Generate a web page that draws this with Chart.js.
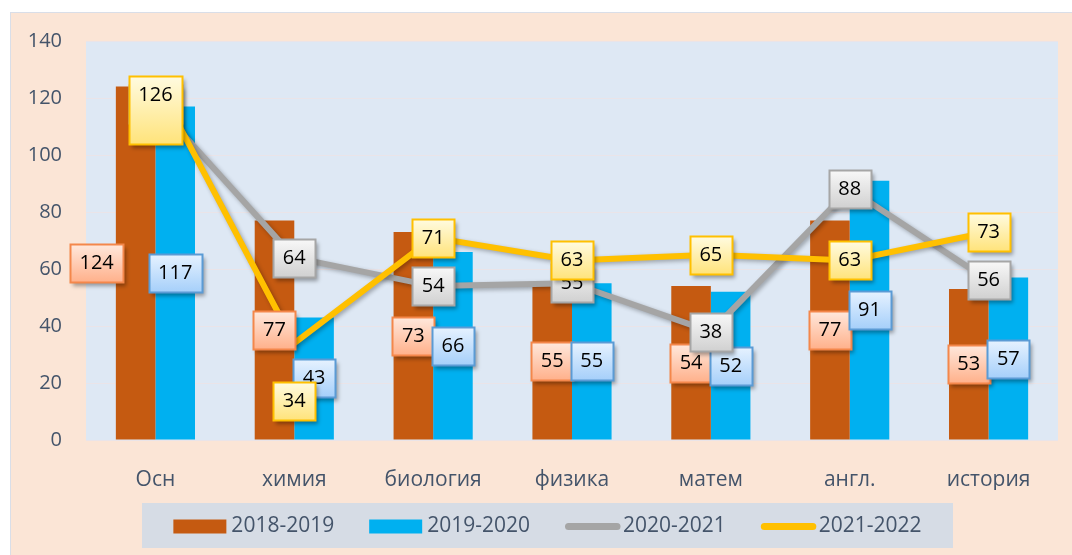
<!DOCTYPE html>
<html>
<head>
<meta charset="utf-8">
<title>Chart</title>
<script src="https://cdn.jsdelivr.net/npm/chart.js@4.4.1/dist/chart.umd.min.js"></script>
<style>
  html, body { margin: 0; padding: 0; background: #ffffff; }
  canvas { display: block; }
</style>
</head>
<body>
<canvas id="mainChart" width="1072" height="555"></canvas>

<script>
// данные
const categories = ['Осн', 'химия', 'биология', 'физика', 'матем', 'англ.', 'история'];
const seriesNames = ['2018-2019', '2019-2020', '2020-2021', '2021-2022'];
const values2018 = [124, 77, 73, 55, 54, 77, 53];
const values2019 = [117, 43, 66, 55, 52, 91, 57];
const values2020 = [118, 64, 54, 55, 38, 88, 56];
const values2021 = [126, 34, 71, 63, 65, 63, 73];
const yMin = 0, yMax = 140, yStep = 20;

const FONT = "'Open Sans', 'Noto Sans', sans-serif";
const TEXT_COLOR = '#44546A';

// стили подписей (рамки)
const labelStyles = [
  { border: '#F4874B', top: '#FFE8DC', bottom: '#FFB08A' },
  { border: '#5B9BD5', top: '#E6F2FF', bottom: '#A5CFFA' },
  { border: '#A6A6A6', top: '#F8F8F8', bottom: '#D0D0D0' },
  { border: '#FFC000', top: '#FFFBE0', bottom: '#FFE37A' }
];
// сдвинутые вручную подписи: "dataset-index"
const labelTweaks = {
  '0-0': { dx: -39 },
  '3-0': { dy: 29, h: 68 },
  '3-1': { dy: 58 }
};

const backgroundPlugin = {
  id: 'backgroundPlugin',
  beforeDraw(chart) {
    const ctx = chart.ctx;
    const a = chart.chartArea;
    ctx.save();
    ctx.fillStyle = '#ffffff';
    ctx.fillRect(0, 0, chart.width, chart.height);
    ctx.fillStyle = '#FBE5D6';
    ctx.fillRect(10, 12, chart.width - 10, chart.height - 12);
    ctx.strokeStyle = '#D9DEE8';
    ctx.lineWidth = 1;
    ctx.strokeRect(10.5, 12.5, chart.width, chart.height);
    ctx.fillStyle = '#DEE8F4';
    ctx.fillRect(a.left, a.top, a.right - a.left, a.bottom - a.top);
    ctx.restore();
  }
};

const lineShadowPlugin = {
  id: 'lineShadowPlugin',
  beforeDatasetDraw(chart, args) {
    if (args.meta.type !== 'line') return;
    const ctx = chart.ctx;
    ctx.save();
    ctx.shadowColor = 'rgba(0,0,0,0.3)';
    ctx.shadowBlur = 4;
    ctx.shadowOffsetX = 2;
    ctx.shadowOffsetY = 2;
  },
  afterDatasetDraw(chart, args) {
    if (args.meta.type !== 'line') return;
    chart.ctx.restore();
  }
};

function drawBox(ctx, cx, cy, w, h, text, style) {
  const left = Math.round(cx - w / 2) + 0.5;
  const top = Math.round(cy - h / 2) + 0.5;
  ctx.save();
  ctx.shadowColor = 'rgba(0,0,0,0.35)';
  ctx.shadowBlur = 4;
  ctx.shadowOffsetX = 2;
  ctx.shadowOffsetY = 3;
  const g = ctx.createLinearGradient(0, top, 0, top + h);
  g.addColorStop(0, style.top);
  g.addColorStop(1, style.bottom);
  ctx.fillStyle = g;
  ctx.fillRect(left, top, w, h);
  ctx.restore();

  ctx.save();
  ctx.strokeStyle = style.border;
  ctx.lineWidth = 2;
  ctx.strokeRect(left, top, w, h);
  ctx.fillStyle = '#000000';
  ctx.font = '20px ' + FONT;
  ctx.textAlign = 'center';
  ctx.textBaseline = 'middle';
  ctx.fillText(text, cx, top + 19);
  ctx.restore();
}

const boxLabelsPlugin = {
  id: 'boxLabelsPlugin',
  afterDatasetsDraw(chart) {
    const ctx = chart.ctx;
    chart.data.datasets.forEach((ds, di) => {
      const meta = chart.getDatasetMeta(di);
      meta.data.forEach((el, i) => {
        const text = String(ds.data[i]);
        const t = labelTweaks[di + '-' + i] || {};
        let x = el.x, y = el.y;
        if (meta.type === 'bar') y = (el.y + el.base) / 2;
        const h = t.h || 38;
        ctx.font = '20px ' + FONT;
        const w = Math.round(ctx.measureText(text).width) + 19;
        drawBox(ctx, x + (t.dx || 0), y + (t.dy || 0), w, h, text, labelStyles[di]);
      });
    });
  }
};

const legendBoxPlugin = {
  id: 'legendBoxPlugin',
  afterDraw(chart) {
    const ctx = chart.ctx;
    const box = { x: 142, y: 503, w: 811, h: 45 };
    ctx.save();
    ctx.fillStyle = '#D6DCE5';
    ctx.fillRect(box.x, box.y, box.w, box.h);

    ctx.font = '21px ' + FONT;
    const swatchW = 53, gap = 5, spacing = 35;
    const items = chart.data.datasets.map(ds => ({
      ds, tw: ctx.measureText(ds.label).width
    }));
    const total = items.reduce((s, it) => s + swatchW + gap + it.tw, 0) + spacing * (items.length - 1);
    let x = box.x + (box.w - total) / 2;
    const cy = box.y + box.h / 2 + 1;
    items.forEach(it => {
      if (it.ds.type === 'line') {
        ctx.strokeStyle = it.ds.borderColor;
        ctx.lineWidth = 7;
        ctx.lineCap = 'round';
        ctx.beginPath();
        ctx.moveTo(x + 3.5, cy);
        ctx.lineTo(x + swatchW - 1, cy);
        ctx.stroke();
      } else {
        ctx.fillStyle = it.ds.backgroundColor;
        ctx.fillRect(x, cy - 7, swatchW, 14);
      }
      ctx.fillStyle = TEXT_COLOR;
      ctx.textAlign = 'left';
      ctx.textBaseline = 'middle';
      ctx.fillText(it.ds.label, x + swatchW + gap, cy);
      x += swatchW + gap + it.tw + spacing;
    });
    ctx.restore();
  }
};

Chart.defaults.font.family = FONT;

const ctx = document.getElementById('mainChart').getContext('2d');
const mainChart = new Chart(ctx, {
  type: 'bar',
  data: {
    labels: categories,
    datasets: [
      {
        label: seriesNames[0],
        data: values2018,
        backgroundColor: '#C55A11',
        borderWidth: 0,
        order: 3
      },
      {
        label: seriesNames[1],
        data: values2019,
        backgroundColor: '#00B0F0',
        borderWidth: 0,
        order: 4
      },
      {
        type: 'line',
        label: seriesNames[2],
        data: values2020,
        borderColor: '#A5A5A5',
        backgroundColor: '#A5A5A5',
        borderWidth: 6,
        pointRadius: 0,
        tension: 0,
        order: 2
      },
      {
        type: 'line',
        label: seriesNames[3],
        data: values2021,
        borderColor: '#FFC000',
        backgroundColor: '#FFC000',
        borderWidth: 6,
        pointRadius: 0,
        tension: 0,
        order: 1
      }
    ]
  },
  options: {
    responsive: false,
    devicePixelRatio: 1,
    animation: false,
    categoryPercentage: 0.57,
    barPercentage: 1.0,
    layout: {
      padding: { left: 0, right: 14, top: 41, bottom: 65 }
    },
    plugins: {
      legend: { display: false },
      tooltip: { enabled: false }
    },
    scales: {
      x: {
        grid: { display: false },
        border: { display: false },
        ticks: {
          color: TEXT_COLOR,
          font: { size: 21 },
          padding: 19,
          maxRotation: 0
        },
        afterFit(scale) { scale.height = 50; }
      },
      y: {
        min: yMin,
        max: yMax,
        border: { display: false },
        grid: { color: '#EAE4E8', lineWidth: 1, drawTicks: false },
        ticks: {
          stepSize: yStep,
          color: TEXT_COLOR,
          font: { size: 20 },
          padding: 24
        },
        afterFit(scale) { scale.width = 86; }
      }
    }
  },
  plugins: [backgroundPlugin, lineShadowPlugin, boxLabelsPlugin, legendBoxPlugin]
});
</script>
</body>
</html>
